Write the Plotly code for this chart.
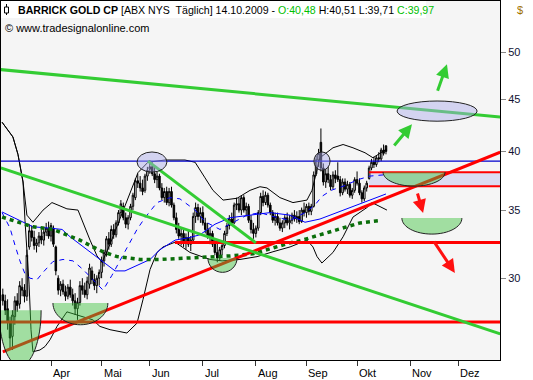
import numpy as np
import plotly.graph_objects as go

# ---------------- data ----------------
# x = trading-day index (0 = first trading day of March 2009)
first_day = 2
open_ = [28.9, 28.5, 28.0, 27.2, 26.3, 27.5, 28.5, 28.3, 29.4, 29.2,
         28.8, 32.2, 33.4, 32.9, 32.3, 32.5, 33.0, 32.7, 33.3, 33.6,
         33.0, 33.6, 32.2, 30.0, 29.2, 29.6, 29.1, 28.8, 29.4, 28.9,
         28.5, 28.0, 28.4, 29.5, 29.2, 28.9, 29.6, 30.5, 29.9, 29.5,
         30.0, 30.4, 31.2, 31.8, 32.8, 32.4, 33.5, 33.1, 34.0, 34.8,
         35.3, 34.4, 33.9, 34.4, 35.3, 36.0, 37.4, 37.2, 36.8, 36.6,
         37.8, 38.4, 38.6, 38.0, 37.5, 37.8, 36.8, 36.0, 36.5, 35.6,
         36.5, 35.4, 34.4, 33.5, 33.0, 33.2, 32.5, 32.9, 32.4, 32.7,
         34.5, 35.2, 34.5, 34.8, 34.0, 33.5, 33.0, 33.2, 32.4, 31.8,
         31.4, 32.0, 32.3, 33.2, 33.8, 34.3, 34.0, 35.4, 35.5, 35.0,
         36.0, 35.0, 35.3, 34.2, 33.5, 33.2, 33.6, 34.8, 36.1, 35.6,
         36.2, 35.4, 34.8, 34.2, 34.5, 34.0, 33.6, 34.0, 34.4, 34.0,
         34.2, 34.6, 34.3, 34.5, 34.1, 35.0, 34.8, 35.3, 34.9, 35.3,
         38.0, 39.2, 40.8, 38.5, 37.3, 38.0, 37.5, 36.9, 37.9, 37.8,
         37.5, 36.4, 37.3, 36.7, 37.1, 36.2, 36.6, 37.5, 37.2, 36.4,
         35.9, 36.8, 37.6, 38.5, 39.0, 38.8, 39.4, 39.3, 40.1, 40.48]
high_ = [29.3, 28.9, 28.6, 27.5, 27.9, 28.8, 29.0, 29.8, 30.0, 29.6,
         32.0, 33.9, 33.8, 33.4, 32.8, 33.3, 33.5, 33.6, 34.0, 34.1,
         34.0, 33.8, 32.3, 30.2, 29.8, 29.9, 29.5, 29.6, 29.9, 29.3,
         29.0, 28.7, 29.8, 30.0, 29.7, 30.1, 31.0, 30.8, 30.3, 30.2,
         30.6, 31.5, 32.0, 33.0, 33.3, 33.8, 33.9, 34.2, 35.0, 35.8,
         35.6, 34.8, 34.6, 35.5, 36.4, 37.6, 38.0, 37.8, 37.5, 38.0,
         38.6, 39.2, 39.0, 38.6, 38.2, 38.0, 37.2, 36.8, 36.9, 36.8,
         36.9, 35.6, 34.8, 34.0, 33.6, 33.5, 33.2, 33.4, 33.0, 34.8,
         35.6, 35.5, 35.2, 35.3, 34.4, 34.0, 33.6, 33.4, 32.8, 32.5,
         32.2, 32.6, 33.4, 34.0, 34.6, 34.8, 35.6, 36.0, 36.0, 36.2,
         36.2, 35.6, 35.5, 34.6, 34.0, 33.8, 35.0, 36.4, 36.6, 36.5,
         36.4, 35.6, 35.0, 34.8, 34.8, 34.4, 34.2, 34.6, 34.8, 34.6,
         34.8, 35.0, 34.9, 35.0, 35.2, 35.6, 35.5, 35.6, 35.5, 38.2,
         39.6, 40.2, 42.1, 38.9, 38.4, 38.6, 37.9, 38.2, 38.3, 39.0,
         37.8, 37.6, 37.6, 37.4, 37.3, 36.8, 37.7, 38.2, 37.6, 36.6,
         37.0, 37.4, 38.7, 39.3, 39.5, 39.6, 39.9, 40.3, 40.6, 40.51]
low_ = [28.2, 27.6, 26.7, 25.6, 25.5, 27.0, 27.8, 28.0, 28.8, 28.4,
        28.5, 32.0, 32.6, 32.0, 31.8, 32.2, 32.4, 32.3, 33.0, 32.8,
        32.6, 32.2, 30.2, 28.9, 28.8, 28.9, 28.5, 28.6, 28.7, 28.2,
        27.6, 27.3, 28.2, 28.9, 28.7, 28.6, 29.3, 29.6, 29.2, 29.0,
        29.5, 30.0, 30.8, 31.5, 32.0, 32.2, 32.8, 32.9, 33.8, 34.5,
        34.2, 33.6, 33.5, 34.2, 35.0, 35.8, 36.8, 36.5, 36.2, 36.4,
        37.4, 38.0, 37.8, 37.2, 36.8, 36.6, 35.8, 35.6, 35.4, 35.3,
        35.2, 34.2, 33.2, 32.8, 32.3, 32.2, 32.0, 32.2, 31.9, 32.5,
        34.0, 34.2, 34.0, 33.8, 33.2, 32.8, 32.4, 32.2, 31.6, 31.1,
        31.2, 31.6, 32.1, 33.0, 33.5, 33.8, 33.9, 35.0, 34.8, 34.6,
        34.8, 34.5, 34.0, 33.2, 32.8, 32.9, 33.4, 34.6, 35.3, 35.4,
        35.2, 34.6, 34.0, 33.8, 33.8, 33.4, 33.3, 33.6, 33.8, 33.5,
        33.9, 34.1, 34.0, 33.9, 34.0, 34.5, 34.4, 34.6, 34.6, 35.2,
        37.8, 38.6, 38.2, 37.0, 36.8, 37.2, 36.6, 36.7, 37.2, 37.3,
        36.1, 36.2, 36.5, 36.3, 36.0, 35.9, 36.4, 37.0, 36.2, 35.6,
        35.7, 36.5, 37.5, 38.3, 38.5, 38.6, 39.0, 39.1, 39.6, 39.71]
close_ = [28.5, 27.9, 27.2, 26.2, 27.6, 28.5, 28.2, 29.5, 29.2, 28.8,
          31.6, 33.4, 32.9, 32.3, 32.5, 33.0, 32.7, 33.3, 33.6, 33.0,
          33.8, 32.4, 30.5, 29.2, 29.6, 29.1, 28.8, 29.4, 28.9, 28.5,
          28.0, 28.4, 29.5, 29.2, 28.9, 29.8, 30.7, 29.9, 29.5, 30.0,
          30.4, 31.2, 31.8, 32.8, 32.4, 33.5, 33.1, 34.0, 34.8, 35.5,
          34.4, 33.9, 34.4, 35.3, 36.2, 37.4, 37.2, 36.8, 36.5, 37.8,
          38.3, 38.6, 38.0, 37.5, 37.8, 36.8, 36.0, 36.5, 35.6, 36.5,
          35.4, 34.4, 33.5, 33.0, 33.2, 32.5, 32.9, 32.4, 32.7, 34.5,
          35.2, 34.5, 34.8, 34.0, 33.5, 33.0, 33.2, 32.4, 31.8, 31.4,
          32.0, 32.3, 33.2, 33.8, 34.3, 34.0, 35.4, 35.5, 35.0, 36.0,
          35.0, 35.3, 34.2, 33.5, 33.2, 33.6, 34.8, 36.1, 35.6, 36.2,
          35.4, 34.8, 34.2, 34.5, 34.0, 33.6, 34.0, 34.4, 34.0, 34.2,
          34.6, 34.3, 34.5, 34.1, 35.0, 34.8, 35.3, 34.9, 35.3, 37.9,
          39.2, 39.8, 38.5, 37.3, 38.0, 37.5, 36.9, 37.9, 37.6, 37.5,
          36.4, 37.3, 36.7, 37.1, 36.2, 36.6, 37.5, 37.2, 36.4, 35.9,
          36.8, 37.2, 38.5, 39.0, 38.8, 39.4, 39.3, 40.1, 39.8, 39.97]
day = list(range(first_day, first_day + len(close_)))

month_idx = [22, 43, 63, 85, 107, 128, 149, 171, 191]
month_lbl = ["Apr", "Mai", "Jun", "Jul", "Aug", "Sep", "Okt", "Nov", "Dez"]
price_ticks = [30, 35, 40, 45, 50]

# indicator lines (day index, price)
bb_up_d = [1.7, 6.2, 8.3, 10.4, 12.0, 14.5, 18.7, 22.4, 24.9, 28.6, 33.2, 35.3, 38.2, 41.1,
           43.2, 46.5, 51.5, 54.0, 58.1, 62.2, 69.3, 77.6, 81.8, 85.9, 89.2, 93.4, 99.2,
           104.6, 108.7, 111.6, 117.0, 122.4, 128.2, 130.3, 133.6, 139.0, 143.2, 147.3,
           152.3, 155.6, 161.4]
bb_up_p = [42.7, 41.3, 39.7, 37.3, 34.6, 34.05, 35.0, 35.6, 35.4, 35.1, 35.0, 34.0, 32.7, 31.55,
           31.1, 32.4, 34.8, 36.0, 38.1, 39.0, 39.2, 39.2, 39.0, 37.65, 36.6, 35.8, 35.95,
           36.6, 36.9, 36.8, 36.0, 35.6, 35.8, 36.6, 39.4, 40.3, 40.6, 40.3,
           39.85, 39.4, 40.2]
bb_lo_d = [1.7, 6.2, 8.3, 10.4, 11.2, 12.0, 12.9, 13.7, 14.5, 17.4, 19.5, 21.6, 24.5, 28.6,
           35.3, 39.4, 42.3, 46.5, 53.5, 57.7, 60.2, 63.1,
           66.0, 68.5, 73.5, 79.7, 88.0, 93.0, 100.4, 107.5, 114.1, 121.2, 128.2, 130.7,
           132.4, 134.4, 139.0, 143.2, 147.3, 153.1, 155.2, 161.4]
bb_lo_p = [42.7, 41.3, 39.7, 37.3, 34.2, 32.0, 29.6, 26.7, 25.4, 25.5, 25.7, 26.1, 26.9, 27.8,
           27.5, 27.3, 26.9, 26.7, 26.5, 27.1, 28.6, 30.6,
           31.8, 32.2, 32.55, 31.8, 31.3, 31.2, 31.3, 31.5, 31.85, 32.2, 32.7, 32.2,
           31.5, 31.05, 31.8, 32.95, 34.45, 35.2, 35.6, 35.0]
ma_d = [1.7, 9.1, 14.5, 21.6, 26.6, 29.9, 34.0, 38.2, 42.3, 48.6, 52.7, 56.8, 63.1, 67.2,
        73.5, 79.7, 83.8, 90.05, 96.3, 104.6, 112.9, 121.2, 127.4, 133.6, 141.9, 150.2, 161.0]
ma_p = [34.85, 34.2, 33.7, 33.6, 33.5, 32.95, 32.4, 31.8, 31.3, 30.5, 30.5, 30.8, 31.3, 32.0,
        32.7, 32.9, 33.1, 33.9, 34.4, 34.6, 34.8, 34.6, 34.05, 34.3, 34.9, 35.5, 36.3]
mad_d = [1.7, 5.0, 7.1, 9.1, 11.2, 13.3, 16.2, 18.7, 22.8, 27.0, 31.1, 35.3, 39.4, 43.6,
         47.3, 50.6, 54.0, 57.7, 61.0, 66.0, 71.4, 75.5, 81.8, 85.9, 92.1, 97.5, 103.3,
         108.7, 114.1, 121.2, 127.4, 131.5, 134.4, 138.2, 144.0, 149.4, 154.4, 159.8]
mad_p = [34.8, 33.6, 32.3, 31.2, 30.3, 30.0, 29.9, 30.4, 31.15, 31.3, 31.2, 30.6, 29.9, 29.2,
         30.2, 31.2, 32.3, 33.5, 34.4, 35.6, 36.0, 35.9, 35.0, 34.1, 33.5, 34.0, 34.6,
         34.8, 34.5, 34.2, 34.8, 35.4, 36.1, 36.6, 37.0, 37.5, 37.8, 37.9]
ma50_d = [1.7, 7.9, 14.5, 22.8, 29.9, 34.0, 39.4, 43.6, 49.4, 54.8, 58.9, 67.2, 73.5, 79.7,
          88.0, 96.3, 105.8, 111.6, 117.0, 121.2, 125.3, 133.6, 141.9, 150.2, 158.9]
ma50_p = [34.45, 34.1, 33.7, 33.5, 32.95, 32.7, 32.2, 31.85, 31.5, 31.4, 31.3, 31.3, 31.35,
          31.4, 31.5, 31.55, 31.7, 32.0, 32.3, 32.5, 32.65, 33.1, 33.6, 34.0, 34.2]

# drawn trend lines / levels  (day index pairs, price pairs)
green_long_d, green_long_p = [1.2, 208.4], [48.1, 43.2]
green_down_d, green_down_p = [1.2, 208.4], [38.5, 26.45]
green_short_d, green_short_p = [62.2, 107.0], [39.1, 32.5]
red_up_d, red_up_p = [2.0, 208.4], [25.39, 39.9]
red_lvl1_d, red_lvl1_p = [73.4, 208.4], [32.52, 32.52]
red_lvl2_d, red_lvl2_p = [1.2, 208.4], [27.17, 27.17]
zone_d = [153.9, 208.4]
zone_p = [36.95, 38.14]
blue_lvl_p = 39.1

# arrows: (from day, from price, to day, to price)
red_arrows = [(173.9, 36.46, 176.4, 34.77), (180.5, 32.7, 189.6, 30.35)]
green_arrows = [(163.9, 40.37, 171.8, 42.5), (182.2, 45.7, 186.3, 48.7)]

# highlight ellipses (day0, day1, price low, price high)
ellipses = [(57.7, 70.1, 38.14, 39.92), (131.1, 137.8, 38.3, 39.92), (165.6, 198.8, 42.8, 44.8)]
# half-ellipses (day0, day1, price at flat top, price at bottom)
bowls = [(0.4, 17.9, 27.9, 24.6), (22.8, 45.6, 28.36, 27.0), (87.1, 99.2, 31.4, 30.4),
         (159.8, 185.5, 38.14, 36.95), (167.6, 192.5, 34.37, 33.15)]

# ---------------- figure ----------------
W, H = 533, 380
ML, MR, MT, MB = 1, 33, 1, 20
PW, PH = W - ML - MR, H - MT - MB
x_range = [1.253, 208.31]
y_range = [np.log10(24.93), np.log10(56.18)]


def px(x):
    return (x - ML) / PW


def py(y):
    return (H - MB - y) / PH


L = np.log10
fig = go.Figure()

for d, p in [(bb_up_d, bb_up_p), (bb_lo_d, bb_lo_p)]:
    fig.add_trace(go.Scatter(x=d, y=p, mode="lines", line=dict(color="black", width=1),
                             hoverinfo="skip"))
fig.add_trace(go.Scatter(x=mad_d, y=mad_p, mode="lines",
                         line=dict(color="#0000ff", width=1, dash="5px,5px"), hoverinfo="skip"))
fig.add_trace(go.Scatter(x=ma_d, y=ma_p, mode="lines",
                         line=dict(color="#0000ff", width=1), hoverinfo="skip"))
fig.add_trace(go.Scatter(x=ma50_d, y=ma50_p, mode="lines",
                         line=dict(color="#0a6e0a", width=3.5, dash="4px,4px"), hoverinfo="skip"))

fig.add_trace(go.Candlestick(
    x=day, open=open_, high=high_, low=low_, close=close_,
    increasing=dict(line=dict(color="black", width=1), fillcolor="white"),
    decreasing=dict(line=dict(color="black", width=1), fillcolor="black"),
    whiskerwidth=0))

fig.add_trace(go.Scatter(x=[x_range[0], x_range[1]], y=[blue_lvl_p, blue_lvl_p], mode="lines",
                         line=dict(color="#0000cc", width=1.2), hoverinfo="skip"))
for d, p, w in [(zone_d, [zone_p[0]] * 2, 2), (zone_d, [zone_p[1]] * 2, 2),
                (red_lvl1_d, red_lvl1_p, 3), (red_lvl2_d, red_lvl2_p, 3), (red_up_d, red_up_p, 3)]:
    fig.add_trace(go.Scatter(x=d, y=p, mode="lines", line=dict(color="#ff0000", width=w),
                             hoverinfo="skip"))
for d, p in [(green_long_d, green_long_p), (green_down_d, green_down_p),
             (green_short_d, green_short_p)]:
    fig.add_trace(go.Scatter(x=d, y=p, mode="lines", line=dict(color="#33cc33", width=3),
                             hoverinfo="skip"))

shapes = []
shapes.append(dict(type="rect", xref="x", yref="y", x0=zone_d[0], x1=zone_d[1],
                   y0=zone_p[0], y1=zone_p[1], fillcolor="#dcdcf2",
                   line=dict(width=0), layer="below"))
k = 0.5523
for d0, d1, pt, pb in bowls:
    cx, rx = (d0 + d1) / 2, (d1 - d0) / 2
    ym = 10 ** (L(pt) - k * (L(pt) - L(pb)))
    arc = (f"M {d0},{pt} C {d0},{ym:.4f} {cx - k * rx:.3f},{pb} {cx:.3f},{pb} "
           f"C {cx + k * rx:.3f},{pb} {d1},{ym:.4f} {d1},{pt}")
    shapes.append(dict(type="path", xref="x", yref="y", path=arc + " Z",
                       fillcolor="rgba(60,195,60,0.45)", line=dict(width=0), layer="above"))
    shapes.append(dict(type="path", xref="x", yref="y", path=arc,
                       fillcolor="rgba(0,0,0,0)", line=dict(color="#222222", width=1), layer="above"))
for d0, d1, p0, p1 in ellipses:
    shapes.append(dict(type="circle", xref="x", yref="y", x0=d0, x1=d1, y0=p0, y1=p1,
                       fillcolor="rgba(170,170,235,0.45)", line=dict(color="#222222", width=1),
                       layer="above"))
shapes.append(dict(type="rect", xref="paper", yref="paper", x0=px(1), x1=px(426), y0=py(18), y1=py(1),
                   fillcolor="white", line=dict(width=0), layer="above"))
shapes.append(dict(type="line", xref="paper", yref="paper", x0=px(6.5), x1=px(6.5), y0=py(15), y1=py(4),
                   line=dict(color="black", width=1), layer="above"))
shapes.append(dict(type="rect", xref="paper", yref="paper", x0=px(4.5), x1=px(8.5), y0=py(13), y1=py(7),
                   fillcolor="white", line=dict(color="black", width=1), layer="above"))

ann = []
for fd, fp, td, tp in red_arrows:
    ann.append(dict(x=td, y=L(tp), ax=fd, ay=L(fp), xref="x", yref="y", axref="x", ayref="y",
                    text="", showarrow=True, arrowhead=2, arrowsize=0.9, arrowwidth=3,
                    arrowcolor="#ff1010"))
for fd, fp, td, tp in green_arrows:
    ann.append(dict(x=td, y=L(tp), ax=fd, ay=L(fp), xref="x", yref="y", axref="x", ayref="y",
                    text="", showarrow=True, arrowhead=2, arrowsize=0.9, arrowwidth=3,
                    arrowcolor="#33cc33"))
for m, lbl in zip(month_idx, month_lbl):
    ann.append(dict(x=m, y=py(373), xref="x", yref="paper", text=lbl, showarrow=False,
                    xanchor="left", yanchor="middle",
                    font=dict(family="Liberation Sans", size=11, color="black")))
ann.append(dict(x=px(16), y=py(10), xref="paper", yref="paper", showarrow=False,
                xanchor="left", yanchor="middle",
                text=("<b>BARRICK GOLD CP</b> [ABX NYS&nbsp; Täglich] 14.10.2009 - "
                      "<span style='color:#00c000'>O:40,48</span> H:40,51 L:39,71 "
                      "<span style='color:#00c000'>C:39,97</span>"),
                font=dict(family="Liberation Sans", size=10.6, color="black")))
ann.append(dict(x=px(3), y=py(28), xref="paper", yref="paper", showarrow=False,
                xanchor="left", yanchor="middle", text="© www.tradesignalonline.com",
                font=dict(family="Liberation Sans", size=11, color="black")))
ann.append(dict(x=px(515), y=py(10), xref="paper", yref="paper", showarrow=False,
                xanchor="left", yanchor="middle", text="$",
                font=dict(family="Liberation Sans", size=11, color="#a07000")))

fig.update_layout(
    width=W, height=H, margin=dict(l=ML, r=MR, t=MT, b=MB),
    paper_bgcolor="white", plot_bgcolor="#f5f5f5", showlegend=False,
    shapes=shapes, annotations=ann, boxgap=0.1,
    xaxis=dict(range=x_range, showgrid=False, zeroline=False, rangeslider=dict(visible=False),
               tickmode="array", tickvals=month_idx, showticklabels=False,
               ticks="outside", ticklen=5, tickcolor="#333333",
               showline=True, linecolor="black", linewidth=1, mirror=True),
    yaxis=dict(type="log", range=y_range, side="right", showgrid=False, zeroline=False,
               tickmode="array", tickvals=price_ticks, ticktext=[str(v) for v in price_ticks],
               ticks="outside", ticklen=5, tickcolor="#888888",
               tickfont=dict(family="Liberation Sans", size=11, color="#111133"),
               showline=True, linecolor="black", linewidth=1, mirror=True),
)
fig.write_html("out.html")
